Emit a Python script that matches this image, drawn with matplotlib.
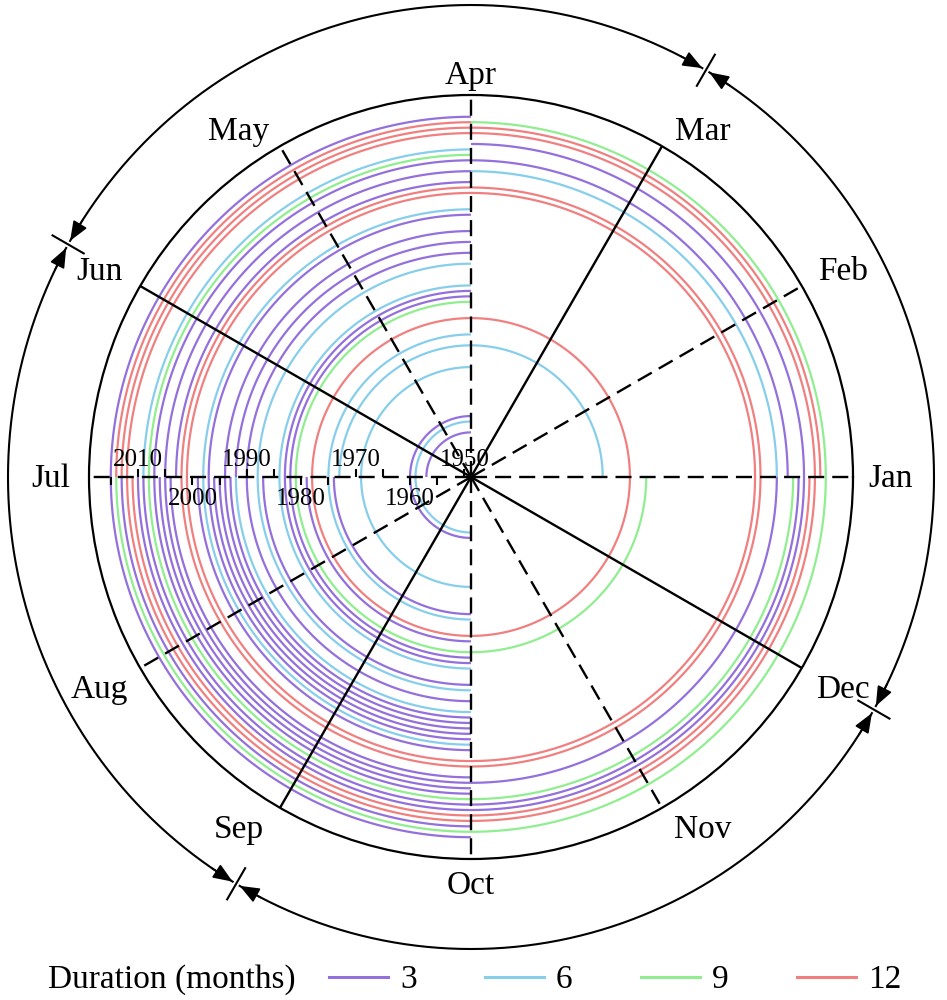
import numpy as np
import matplotlib.pyplot as plt
from matplotlib.lines import Line2D

plt.rcParams['font.family'] = ['Liberation Serif', 'DejaVu Serif']

months = ['Jan', 'Feb', 'Mar', 'Apr', 'May', 'Jun',
          'Jul', 'Aug', 'Sep', 'Oct', 'Nov', 'Dec']
durations = [3, 6, 9, 12]
dur_colors = {3: '#9370DB', 6: '#87CEEB', 9: '#90EE90', 12: '#F08080'}

# drought arcs per quarter (Jan-Mar, Apr-Jun, Jul-Sep, Oct-Dec): year and duration class
q1_years = [1973, 1978, 2001, 2002, 2005, 2007, 2010, 2012, 2013, 2014]
q1_dur = [6, 12, 12, 12, 6, 3, 3, 12, 12, 9]

q2_years = [1957, 1959, 1960, 1969, 1973, 1975, 1978, 1981, 1982, 1983,
            1984, 1988, 1990, 1992, 1994, 1997, 1998, 2001, 2002, 2003,
            2005, 2007, 2008, 2009, 2012, 2013, 2014, 2015]
q2_dur = [3, 6, 3, 6, 6, 6, 12, 9, 3, 3,
          6, 6, 3, 3, 3, 3, 6, 12, 12, 3,
          3, 3, 9, 6, 12, 12, 12, 3]

q3_years = [1959, 1960, 1969, 1974, 1975, 1978, 1979, 1981, 1982, 1983,
            1984, 1987, 1988, 1990, 1992, 1993, 1994, 1995, 1996, 1997,
            1998, 1999, 2001, 2002, 2004, 2005, 2006, 2007, 2008, 2009,
            2010, 2011, 2012, 2013, 2014, 2015]
q3_dur = [6, 3, 6, 3, 6, 12, 3, 9, 3, 3,
          6, 3, 6, 3, 6, 3, 3, 3, 3, 3,
          6, 3, 12, 12, 3, 3, 3, 3, 9, 3,
          3, 12, 12, 3, 9, 3]

q4_years = [1978, 1981, 2001, 2002, 2005, 2008, 2009, 2010, 2011, 2012, 2014]
q4_dur = [12, 9, 12, 12, 3, 9, 3, 3, 12, 12, 9]

year_labels = [1950, 1960, 1970, 1980, 1990, 2000, 2010]
tick_years = list(range(1950, 2016, 5))
season_edges = [60, 150, 240, 330]

R0, R1 = 1948.8, 2019.0
PX = 382 / (R1 - R0)   # pixels per year


def r_of(px):
    return R0 + px / PX


fig = plt.figure(figsize=(9.47, 10), dpi=100)
ax = fig.add_axes([89 / 947, 1 - 859 / 1000, 764 / 947, 764 / 1000], projection='polar')
ax.set_ylim(R0, R1)
ax.set_xticks([])
ax.set_yticks([])
ax.grid(False)
ax.spines['polar'].set_linewidth(1.6)

# arcs
quarters = [(q1_years, q1_dur), (q2_years, q2_dur), (q3_years, q3_dur), (q4_years, q4_dur)]
for q, (yrs, durs) in enumerate(quarters):
    th = np.linspace(q * np.pi / 2, (q + 1) * np.pi / 2, 80)
    for y, d in zip(yrs, durs):
        ax.plot(th, np.full_like(th, y), color=dur_colors[d], lw=1.6,
                solid_capstyle='butt', zorder=2)

# month spokes
for i in range(12):
    th = np.deg2rad(30 * i)
    ls = '-' if i % 3 == 2 else (0, (6.8, 3.4))
    ax.plot([th, th], [R0, R1], color='k', lw=1.7, ls=ls, zorder=3)

# month labels, offset from the spoke ends
for i, m in enumerate(months):
    a = np.deg2rad(30 * i)
    c, s = np.cos(a), np.sin(a)
    dx = 0 if abs(c) < 0.1 else (38 if abs(s) < 0.1 else 41) * np.sign(c)
    dy = 2 if abs(s) < 0.1 else (23 if abs(c) < 0.1 else 18) * np.sign(s)
    dy -= 4
    ax.annotate(m, xy=(a, R1), xytext=(dx * 0.72, dy * 0.72), textcoords='offset points',
                fontsize=24, ha='center', va='center', annotation_clip=False)

# year ticks and labels along the Jul axis
for y in tick_years:
    up = int(np.ceil(y / 10)) % 2 == 1
    ax.plot([np.pi], [y], marker=2 if up else 3, ms=6, mew=1.5, color='k', zorder=4)
for y in year_labels:
    up = (y // 10) % 2 == 1
    ax.annotate(str(y), xy=(np.pi, y), xytext=(0, 8 if up else -20.5),
                textcoords='offset points', ha='center', va='baseline', fontsize=18)

# season ring with arrows (slightly wider than tall, as in the source)
def ring_r(a):
    return r_of(1 / np.sqrt((np.cos(a) / 463) ** 2 + (np.sin(a) / 472) ** 2))


for b in season_edges:
    a0 = np.deg2rad(b + 0.5)
    a1 = np.deg2rad(b + 90 - 0.5)
    th = np.linspace(a0, a1, 200)
    ax.plot(th, ring_r(th), color='k', lw=1.5, clip_on=False)
    for tip, back in [(a0, a0 + np.deg2rad(3)), (a1, a1 - np.deg2rad(3))]:
        ax.annotate('', xy=(tip, ring_r(tip)), xytext=(back, ring_r(back)),
                    arrowprops=dict(arrowstyle='-|>,head_length=0.5,head_width=0.2',
                                    color='k', lw=1.2, mutation_scale=24,
                                    shrinkA=0, shrinkB=0),
                    annotation_clip=False)
    ab = np.deg2rad(b)
    rb = ring_r(ab)
    ax.plot([ab, ab], [rb - 18 / PX, rb + 18 / PX], color='k', lw=1.5, clip_on=False)

# legend
handles = [Line2D([], [], color=dur_colors[d], lw=2.2) for d in durations]
fig.legend(handles, [str(d) for d in durations], loc='center left',
           bbox_to_anchor=(329 / 947, 0.02), ncol=4, frameon=False, fontsize=24,
           handlelength=1.77, handletextpad=0.36, columnspacing=2.05,
           borderpad=0, borderaxespad=0)
fig.text(48 / 947, 0.02, 'Duration (months)', fontsize=24, va='center', ha='left')

fig.savefig('out.png', dpi=100)
